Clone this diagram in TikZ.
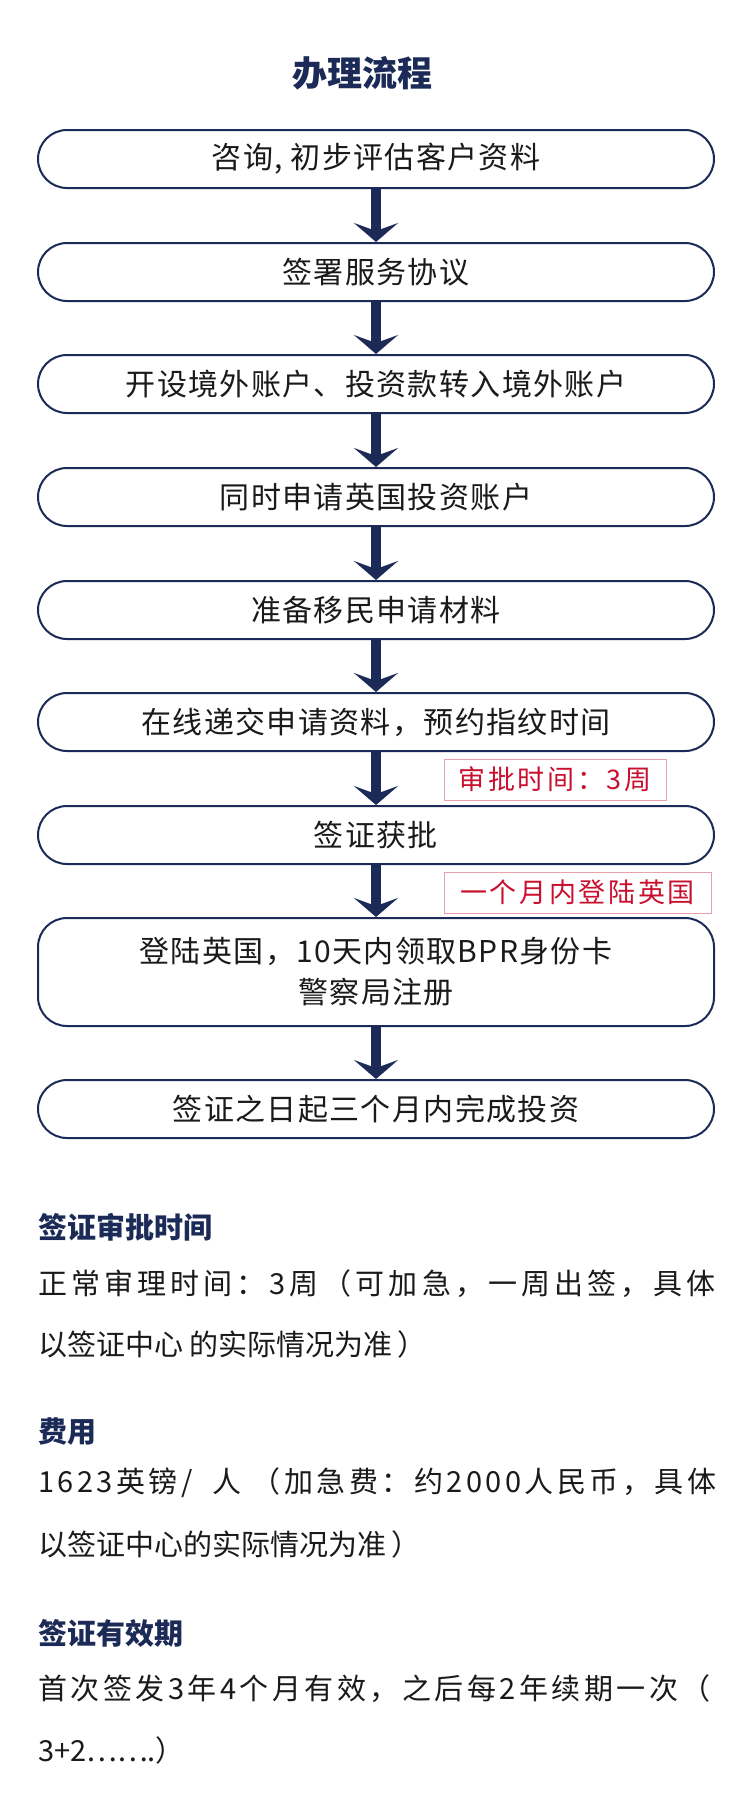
\documentclass[tikz,border=0pt]{standalone}
\usepackage{fontspec}
\setmainfont{Noto Sans CJK SC}
\usetikzlibrary{arrows.meta}
\definecolor{navy}{HTML}{1C2A57}
\definecolor{lred}{HTML}{C8102E}
\definecolor{lpink}{HTML}{E8A1AC}
\definecolor{ink}{HTML}{1A1A1A}
\newcommand\boxfont{\fontsize{30}{41}\selectfont\addfontfeatures{LetterSpace=4.5}}
\newcommand\labfont{\fontsize{27}{30}\selectfont\addfontfeatures{LetterSpace=10}}
\newcommand\headfont{\fontsize{29}{32}\selectfont\bfseries}
\newcommand\bodyfont{\fontsize{29}{32}\selectfont}
\newcommand\titlefont{\fontsize{35}{40}\selectfont\bfseries}
\newcommand\spaced[1]{\addfontfeatures{LetterSpace=#1}}
\tikzset{
  stepbox/.style={draw=navy, line width=2pt, rounded corners=29pt, fill=white,
    minimum width=676pt, minimum height=58pt, inner sep=0pt, font=\boxfont, text=ink, align=center},
  arr/.style={navy, line width=10pt, -{Stealth[length=19pt, width=44pt, inset=8pt]}},
  lab/.style={draw=lpink, line width=1pt, text=lred, font=\labfont, inner sep=0pt, minimum height=41pt},
  head/.style={anchor=west, inner sep=0pt, text=navy, font=\headfont},
  body/.style={anchor=west, inner sep=0pt, text=ink, font=\bodyfont},
}
\begin{document}
\begin{tikzpicture}[x=1pt,y=-1pt]
\fill[white] (0,0) rectangle (750,1820);
\useasboundingbox (0,0) rectangle (750,1820);
\node[font=\titlefont, text=navy, inner sep=0pt] (title) at (362,73) {办理流程};
\node[stepbox] (b1) at (376,159) {咨询, 初步评估客户资料};
\node[stepbox] (b2) at (376,272) {签署服务协议};
\node[stepbox] (b3) at (376,384) {开设境外账户、投资款转入境外账户};
\node[stepbox] (b4) at (376,497) {同时申请英国投资账户};
\node[stepbox] (b5) at (376,610) {准备移民申请材料};
\node[stepbox] (b6) at (376,722) {在线递交申请资料，预约指纹时间};
\node[stepbox] (b7) at (376,835) {签证获批};
\node[stepbox, minimum height=108pt] (b8) at (376,972) {登陆英国，10天内领取BPR身份卡\\警察局注册};
\node[stepbox] (b9) at (376,1109) {签证之日起三个月内完成投资};
\draw[arr] (b1.south) -- (b2.north);
\draw[arr] (b2.south) -- (b3.north);
\draw[arr] (b3.south) -- (b4.north);
\draw[arr] (b4.south) -- (b5.north);
\draw[arr] (b5.south) -- (b6.north);
\draw[arr] (b6.south) -- (b7.north);
\draw[arr] (b7.south) -- (b8.north);
\draw[arr] (b8.south) -- (b9.north);
\node[lab, minimum width=222pt] (l1) at (555,779.5) {审批时间：3周};
\node[lab, minimum width=267pt] (l2) at (577.5,892.5) {一个月内登陆英国};
\node[head] (h1) at (38,1227) {签证审批时间};
\node[body] (t1) at (38,1284) {\spaced{14}正常审理时间：3周（可加急，一周出签，具体};
\node[body] (t2) at (38,1344) {以签证中心 的实际情况为准\,）};
\node[head] (h2) at (38,1432) {费用};
\node[body] (t3) at (38,1483) {\spaced{12}1623英镑/\ \ 人 （加急费：约2000人民币，具体};
\node[body] (t4) at (38,1544) {以签证中心的实际情况为准\,）};
\node[head] (h3) at (38,1633) {签证有效期};
\node[body] (t5) at (38,1689) {\spaced{12}首次签发3年4个月有效，之后每2年续期一次（};
\node[body] (t6) at (38,1750) {3+2⋯⋯.）};
\end{tikzpicture}
\end{document}
